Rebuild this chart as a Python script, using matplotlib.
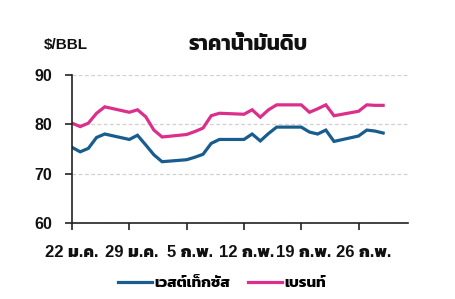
import matplotlib
matplotlib.use("Agg")
import matplotlib.pyplot as plt
import matplotlib.transforms as mtransforms
import numpy as np

plt.rcParams['font.family'] = ['Liberation Sans', 'Kanit', 'Noto Sans Thai']
plt.rcParams['font.weight'] = 'bold'

dates = ["2024-01-22", "2024-01-23", "2024-01-24", "2024-01-25", "2024-01-26",
         "2024-01-29", "2024-01-30", "2024-01-31", "2024-02-01", "2024-02-02",
         "2024-02-05", "2024-02-06", "2024-02-07", "2024-02-08", "2024-02-09",
         "2024-02-12", "2024-02-13", "2024-02-14", "2024-02-15", "2024-02-16",
         "2024-02-19", "2024-02-20", "2024-02-21", "2024-02-22", "2024-02-23",
         "2024-02-26", "2024-02-27", "2024-02-28", "2024-02-29"]
wti = [75.3, 74.4, 75.1, 77.3, 78.0,
       76.9, 77.75, 75.8, 73.8, 72.4,
       72.8, 73.3, 73.9, 76.1, 76.9,
       76.9, 78.0, 76.6, 78.1, 79.4,
       79.4, 78.4, 78.0, 78.8, 76.5,
       77.6, 78.8, 78.6, 78.2]
brent = [80.2, 79.5, 80.2, 82.2, 83.5,
         82.4, 82.9, 81.5, 78.8, 77.4,
         77.9, 78.5, 79.2, 81.7, 82.2,
         82.0, 82.9, 81.4, 82.9, 83.9,
         83.9, 82.4, 83.1, 83.9, 81.7,
         82.6, 83.9, 83.8, 83.8]
tick_dates = ["2024-01-22", "2024-01-29", "2024-02-05", "2024-02-12", "2024-02-19", "2024-02-26"]
tick_labels = ["22 ม.ค.", "29 ม.ค.", "5 ก.พ.", "12 ก.พ.", "19 ก.พ.", "26 ก.พ."]
y_ticks = [60, 70, 80, 90]
series_names = ["เวสต์เท็กซัส", "เบรนท์"]
title = "ราคาน้ำมันดิบ"
unit = "$/BBL"

x = np.array(dates, dtype="datetime64[D]")
xt = np.array(tick_dates, dtype="datetime64[D]")

fig = plt.figure(figsize=(4.55, 2.99), dpi=100)
ax = fig.add_axes([72/455, 1-223/299, 335.7/455, 148.3/299])

blue = "#185d8e"
pink = "#dc2f8b"
ax.plot(x, wti, color=blue, lw=2.3, solid_joinstyle="miter", label=series_names[0])
ax.plot(x, brent, color=pink, lw=2.3, solid_joinstyle="miter", label=series_names[1])

ax.set_xlim(np.datetime64("2024-01-22"), np.datetime64("2024-03-03"))
ax.set_ylim(60, 90)
ax.set_yticks(y_ticks)
ax.set_xticks(xt)
ax.set_xticklabels(tick_labels)

for s in ["top", "right"]:
    ax.spines[s].set_visible(False)
for s in ["left", "bottom"]:
    ax.spines[s].set_linewidth(1.2)
    ax.spines[s].set_color("#222222")

ax.grid(axis="y", color="#d0d0d0", lw=0.9, ls=(0, (3, 2)))
ax.set_axisbelow(True)
ax.tick_params(axis="y", length=5, width=1.2, color="#222222", pad=9, labelsize=11.5, labelcolor="#111111")
ax.tick_params(axis="x", length=5, width=1.2, color="#222222", pad=10.5, labelsize=12, labelcolor="#111111")

offsets_px = [0, 2, 3, 3, 2, 5]
for lab, off in zip(ax.get_xticklabels(), offsets_px):
    lab.set_fontweight(800)
    lab.set_transform(lab.get_transform() + mtransforms.ScaledTranslation(off/100, 0, fig.dpi_scale_trans))

fig.text(66/455, 1-45/299, unit, ha="center", va="center", fontsize=11, color="#111111")
fig.text(248/455, 1-45/299, title, ha="center", va="center", fontsize=15, color="#111111")

leg = fig.legend(loc="center", bbox_to_anchor=(222/455, 1-283/299), ncol=2, frameon=False,
                 fontsize=11, handlelength=2.2, handletextpad=0.15, columnspacing=1.2)

fig.savefig("out.png", dpi=100)
